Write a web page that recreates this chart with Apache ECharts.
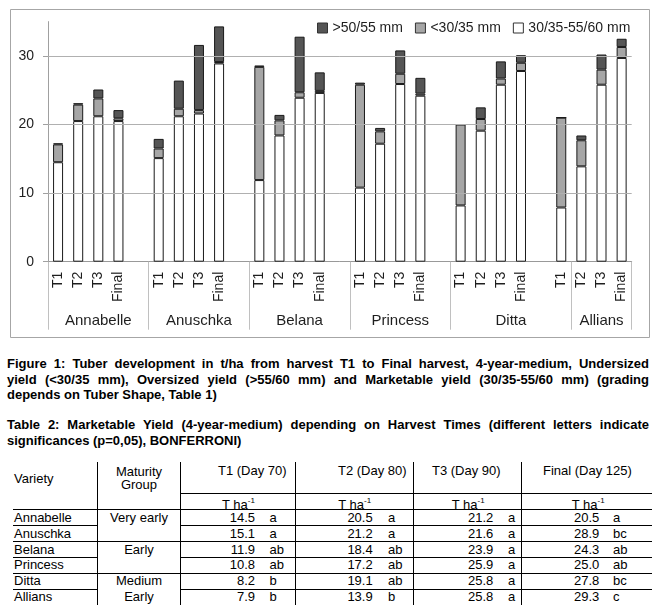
<!DOCTYPE html>
<html><head><meta charset="utf-8">
<script src="https://cdn.jsdelivr.net/npm/echarts@6/dist/echarts.min.js"></script>
<style>
body{margin:0;background:#fff;font-family:Arial,"Liberation Sans",sans-serif;color:#000;width:669px;height:613px;overflow:hidden;position:relative;}
#chart{position:absolute;left:0;top:0;width:669px;height:345px;}
.cap{position:absolute;left:7px;width:642px;font-weight:bold;font-size:13px;line-height:15.5px;}
.j{text-align:justify;text-align-last:justify;}
.t{position:absolute;font-size:13px;white-space:nowrap;line-height:16px;height:16px;}
.h{position:absolute;height:0;border-top:1px solid #000;}
.v{position:absolute;width:0;border-left:1px solid #000;}
sup{font-size:8px;position:relative;top:-1px;}
</style></head><body>
<div id="chart"></div>
<div class="cap" style="top:356px">
<div class="j">Figure 1: Tuber development in t/ha from harvest T1 to Final harvest, 4-year-medium, Undersized</div>
<div class="j">yield (&lt;30/35 mm), Oversized yield (&gt;55/60 mm) and Marketable yield (30/35-55/60 mm) (grading</div>
<div>depends on Tuber Shape, Table 1)</div>
</div>
<div class="cap" style="top:417px">
<div class="j">Table 2: Marketable Yield (4-year-medium) depending on Harvest Times (different letters indicate</div>
<div>significances (p=0,05), BONFERRONI)</div>
</div>
<div id="tbl"></div>
<script>
// ---- chart data ----
const groups = ['Annabelle','Anuschka','Belana','Princess','Ditta','Allians'];
const harvests = ['T1','T2','T3','Final'];
const legendNames = ['>50/55 mm','<30/35 mm','30/35-55/60 mm'];
// per variety, T1,T2,T3,Final
const marketableYield = [14.5,20.5,21.2,20.5, 15.1,21.2,21.6,28.9, 11.9,18.4,23.9,24.6, 10.8,17.2,25.9,24.2, 8.2,19.1,25.8,27.8, 7.9,13.9,25.8,29.7];
const undersizedYield = [2.6,2.4,2.6,0.4, 1.4,1.1,0.5,0.2, 16.5,2.2,0.8,0.3, 15.0,1.8,1.5,0.3, 11.8,1.7,0.9,1.2, 13.1,3.8,2.2,1.6];
const oversizedYield  = [0.15,0.2,1.3,1.2, 1.4,4.1,9.5,5.2, 0.2,0.8,8.1,2.7, 0.3,0.5,3.4,2.3, 0,1.7,2.5,1.1, 0,0.7,2.2,1.2];
const yTicks = [0,10,20,30];
const yGridValues = [10,20,30];
// Excel two-level axis: group label centres and group separators (in slot units)
const groupLabelPos = [2.5,7.5,12.5,17.5,23,27.5];
const groupBounds = [0,5,10,15,20,26,29];

// ---- table data ----
const tblVarieties = ['Annabelle','Anuschka','Belana','Princess','Ditta','Allians'];
const tblMaturity = ['Very early','','Early','','Medium','Early'];
const tblT1 = [14.5,15.1,11.9,10.8,8.2,7.9];
const tblT1Let = ['a','a','ab','ab','b','b'];
const tblT2 = [20.5,21.2,18.4,17.2,19.1,13.9];
const tblT2Let = ['a','a','ab','ab','ab','b'];
const tblT3 = [21.2,21.6,23.9,25.9,25.8,25.8];
const tblT3Let = ['a','a','a','a','a','a'];
const tblFinal = [20.5,28.9,24.3,25.0,27.8,29.3];
const tblFinalLet = ['a','bc','ab','ab','bc','c'];
const tblHeads = ['T1 (Day 70)','T2 (Day 80)','T3 (Day 90)','Final (Day 125)'];

// ---- build category slots ----
const categories = [];
const slot = arr => {
  const out = [];
  groups.forEach((g, gi) => {
    harvests.forEach((h, hi) => out.push(arr[gi*4+hi]));
    if (gi < groups.length - 1) out.push(null);
  });
  return out;
};
groups.forEach((g, gi) => {
  harvests.forEach(h => categories.push(h));
  if (gi < groups.length - 1) categories.push('');
});

const chart = echarts.init(document.getElementById('chart'), null, {renderer:'canvas'});
const txt = '#1e1e1e';
const FONT = 'Arial, "Liberation Sans", sans-serif';
const barBase = {type:'bar', stack:'y', barWidth:10, xAxisIndex:0, yAxisIndex:0};
chart.setOption({
  animation:false,
  textStyle:{fontFamily:FONT},
  graphic:[{type:'rect', z:-10, shape:{x:10.5,y:9.5,width:639,height:328}, style:{fill:'none', stroke:'#a6a6a6', lineWidth:1}}],
  legend:{
    data:legendNames, left:312, top:16, itemWidth:10, itemHeight:10, itemGap:12,
    icon:'rect',
    itemStyle:{borderColor:'#333', borderWidth:1},
    textStyle:{fontSize:14, color:txt, fontFamily:FONT}
  },
  grid:{left:48, right:37.3, top:21.6, bottom:83.3},
  xAxis:[{
    type:'category', data:categories, boundaryGap:true,
    axisLine:{lineStyle:{color:'#999'}},
    axisTick:{interval:0, length:41, lineStyle:{color:'#c0c0c0'}},
    axisLabel:{interval:0, rotate:90, margin:10, fontSize:14, color:txt, fontFamily:FONT}
  },{
    type:'value', min:0, max:29, position:'bottom',
    axisLine:{show:false},
    splitLine:{show:false},
    axisTick:{show:true, customValues:groupBounds, length:68, lineStyle:{color:'#c0c0c0'}},
    axisLabel:{customValues:groupLabelPos, margin:52, fontSize:15, color:txt, fontFamily:FONT,
      formatter:v => { const i = groupLabelPos.indexOf(v); return i >= 0 ? groups[i] : ''; }}
  }],
  yAxis:{
    type:'value', min:0, max:35, interval:10,
    axisLine:{show:true, lineStyle:{color:'#a0a0a0'}},
    axisTick:{show:true, customValues:yTicks, length:5, lineStyle:{color:'#a0a0a0'}},
    splitLine:{show:false},
    axisLabel:{customValues:yTicks, margin:14, fontSize:14, color:txt, fontFamily:FONT,
      formatter:v => yTicks.indexOf(v) >= 0 ? String(v) : ''}
  },
  series:[
    {type:'line', data:[], z:1, silent:true,
      markLine:{silent:true, symbol:'none', label:{show:false},
        lineStyle:{color:'#b0b0b0', type:'solid', width:1},
        data:yGridValues.map(v => ({yAxis:v}))}},
    Object.assign({}, barBase, {name:legendNames[2], data:slot(marketableYield), itemStyle:{color:'#ffffff', borderColor:'#1a1a1a', borderWidth:1}}),
    Object.assign({}, barBase, {name:legendNames[1], data:slot(undersizedYield), itemStyle:{color:'#a6a6a6', borderColor:'#1a1a1a', borderWidth:1}}),
    Object.assign({}, barBase, {name:legendNames[0], data:slot(oversizedYield), itemStyle:{color:'#555555', borderColor:'#1a1a1a', borderWidth:1}})
  ]
});

// ---- table ----
const tbl = document.getElementById('tbl');
const add = (cls, style, html) => { const d = document.createElement('div'); d.className = cls; d.style.cssText = style; if (html != null) d.innerHTML = html; tbl.appendChild(d); };
const L = 13, R = 652, colX = [96.7, 180, 295, 413.3, 520.7];
colX.forEach(x => add('v', `left:${x}px;top:462px;height:143px;`));
add('h', `left:180px;top:493px;width:${R-180}px;`);
add('h', `left:${L}px;top:509px;width:${R-L}px;`);
const rowTop = i => 509.3 + 15.95*i;
for (let i = 1; i < 6; i++) {
  const y = rowTop(i);
  if (i % 2 === 0) add('h', `left:${L}px;top:${y}px;width:${R-L}px;`);
  else {
    add('h', `left:${L}px;top:${y}px;width:${96.7-L}px;`);
    add('h', `left:180px;top:${y}px;width:${R-180}px;`);
  }
}
add('t', 'left:14px;top:471px;', 'Variety');
add('t', 'left:97px;width:84px;text-align:center;top:463.5px;', 'Maturity');
add('t', 'left:97px;width:84px;text-align:center;top:477px;', 'Group');
const headX = [218, 338, 432, 543];
tblHeads.forEach((h, i) => add('t', `left:${headX[i]}px;top:462.7px;`, h));
const thaX = [222, 338.3, 451.7, 571.7];
thaX.forEach(x => add('t', `left:${x}px;top:494px;`, 'T ha<sup>-1</sup>'));
const valRight = [255, 372.7, 493.3, 599.3];
const letLeft = [269.5, 388, 508, 613];
const vals = [tblT1, tblT2, tblT3, tblFinal];
const lets = [tblT1Let, tblT2Let, tblT3Let, tblFinalLet];
tblVarieties.forEach((v, i) => {
  const top = rowTop(i) + 0.3;
  add('t', `left:14px;top:${top}px;`, v);
  if (tblMaturity[i]) add('t', `left:97px;width:84px;text-align:center;top:${top}px;`, tblMaturity[i]);
  vals.forEach((arr, c) => {
    add('t', `left:${valRight[c]-60}px;width:60px;text-align:right;top:${top}px;`, arr[i].toFixed(1));
    add('t', `left:${letLeft[c]}px;top:${top}px;`, lets[c][i]);
  });
});
</script>
</body></html>
